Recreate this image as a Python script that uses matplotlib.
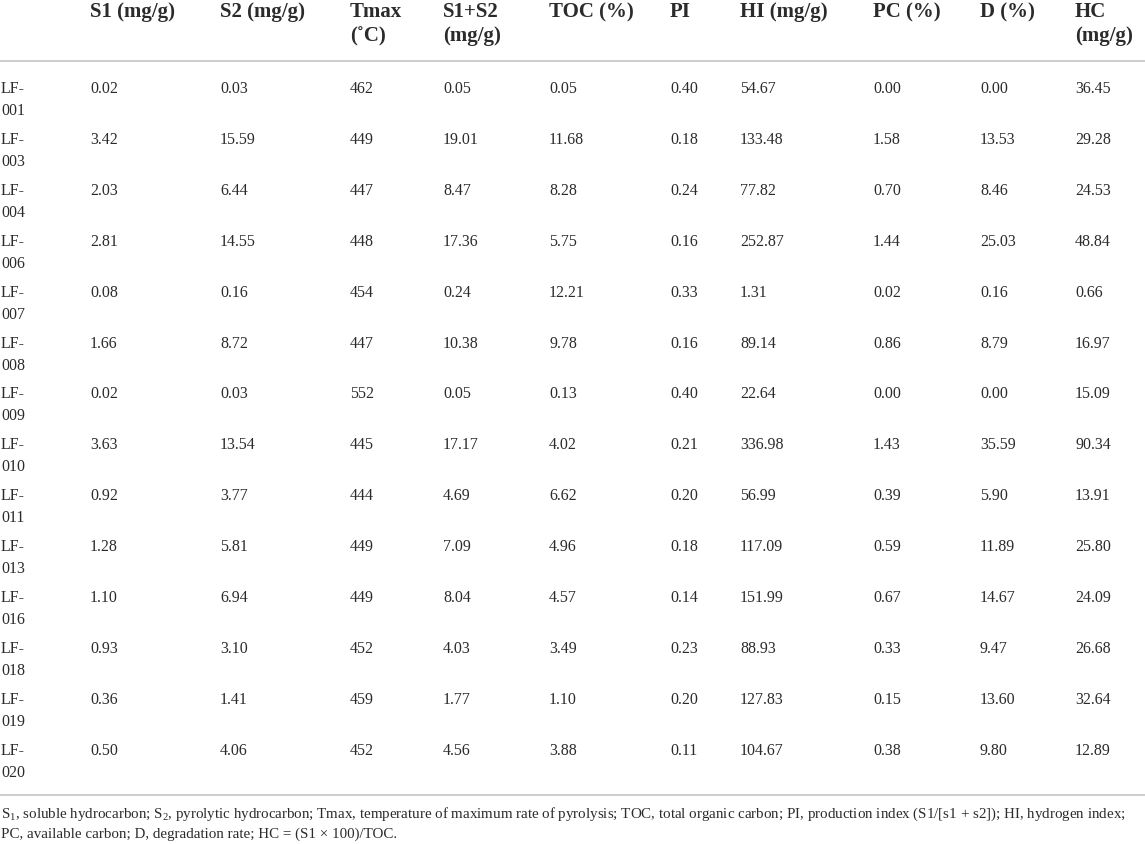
import matplotlib
matplotlib.use("Agg")
import matplotlib.pyplot as plt
from matplotlib.lines import Line2D

plt.rcParams['font.family'] = ['Liberation Serif', 'DejaVu Serif']
plt.rcParams['mathtext.fontset'] = 'custom'
plt.rcParams['mathtext.rm'] = 'Liberation Serif'

# table content
headers = [["", ""], ["S1 (mg/g)", ""], ["S2 (mg/g)", ""], ["Tmax", "(˚C)"],
           ["S1+S2", "(mg/g)"], ["TOC (%)", ""], ["PI", ""], ["HI (mg/g)", ""],
           ["PC (%)", ""], ["D (%)", ""], ["HC", "(mg/g)"]]
samples = ["001", "003", "004", "006", "007", "008", "009", "010",
           "011", "013", "016", "018", "019", "020"]
s1 = ["0.02", "3.42", "2.03", "2.81", "0.08", "1.66", "0.02", "3.63",
      "0.92", "1.28", "1.10", "0.93", "0.36", "0.50"]
s2 = ["0.03", "15.59", "6.44", "14.55", "0.16", "8.72", "0.03", "13.54",
      "3.77", "5.81", "6.94", "3.10", "1.41", "4.06"]
tmax = ["462", "449", "447", "448", "454", "447", "552", "445",
        "444", "449", "449", "452", "459", "452"]
s1s2 = ["0.05", "19.01", "8.47", "17.36", "0.24", "10.38", "0.05", "17.17",
        "4.69", "7.09", "8.04", "4.03", "1.77", "4.56"]
toc = ["0.05", "11.68", "8.28", "5.75", "12.21", "9.78", "0.13", "4.02",
       "6.62", "4.96", "4.57", "3.49", "1.10", "3.88"]
pi = ["0.40", "0.18", "0.24", "0.16", "0.33", "0.16", "0.40", "0.21",
      "0.20", "0.18", "0.14", "0.23", "0.20", "0.11"]
hi = ["54.67", "133.48", "77.82", "252.87", "1.31", "89.14", "22.64", "336.98",
      "56.99", "117.09", "151.99", "88.93", "127.83", "104.67"]
pc = ["0.00", "1.58", "0.70", "1.44", "0.02", "0.86", "0.00", "1.43",
      "0.39", "0.59", "0.67", "0.33", "0.15", "0.38"]
deg = ["0.00", "13.53", "8.46", "25.03", "0.16", "8.79", "0.00", "35.59",
       "5.90", "11.89", "14.67", "9.47", "13.60", "9.80"]
hc = ["36.45", "29.28", "24.53", "48.84", "0.66", "16.97", "15.09", "90.34",
      "13.91", "25.80", "24.09", "26.68", "32.64", "12.89"]

footnote = [
    "S$_\\mathrm{1}$, soluble hydrocarbon; S$_\\mathrm{2}$, pyrolytic hydrocarbon; Tmax, temperature of maximum rate of pyrolysis; "
    "TOC, total organic carbon; PI, production index (S1/[s1 + s2]); HI, hydrogen index;",
    "PC, available carbon; D, degradation rate; HC = (S1 × 100)/TOC.",
]

W, H = 1145, 844
fig = plt.figure(figsize=(W / 100, H / 100), dpi=100)
fig.patch.set_facecolor('white')

col_x = [1, 90, 220, 350, 443, 549, 670, 740, 873, 980, 1075]
text_color = '#2b2b2b'
rule_color = '#c9c9c9'
head_fs, body_fs = 15, 11.5


def fx(px):
    return px / W


def fy(py):
    return 1 - py / H


# header
for x, (l1, l2) in zip(col_x, headers):
    fig.text(fx(x), fy(17), l1, fontsize=head_fs, fontweight='bold',
             color=text_color, va='baseline')
    if l2:
        fig.text(fx(x), fy(41), l2, fontsize=head_fs, fontweight='bold',
                 color=text_color, va='baseline')

fig.add_artist(Line2D([0, 1], [fy(61), fy(61)], color=rule_color, lw=1.3))

# body rows
columns = [s1, s2, tmax, s1s2, toc, pi, hi, pc, deg, hc]
row_y0, row_h = 93, 50.9
for i, sid in enumerate(samples):
    y = row_y0 + i * row_h
    fig.text(fx(col_x[0]), fy(y), "LF-", fontsize=body_fs, color=text_color, va='baseline')
    fig.text(fx(col_x[0]), fy(y + 22), sid, fontsize=body_fs, color=text_color, va='baseline')
    for x, col in zip(col_x[1:], columns):
        fig.text(fx(x), fy(y), col[i], fontsize=body_fs, color=text_color, va='baseline')

fig.add_artist(Line2D([0, 1], [fy(795), fy(795)], color=rule_color, lw=1.3))

# footnote, sized so the first line spans the table width
fn1 = fig.text(fx(1), fy(818), footnote[0], fontsize=10, color=text_color, va='baseline')
renderer = fig.canvas.get_renderer()
w1 = fn1.get_window_extent(renderer).width
fn_fs = 10 * 1128 / w1
fn1.set_fontsize(fn_fs)
fig.text(fx(1), fy(838), footnote[1], fontsize=fn_fs, color=text_color, va='baseline')

fig.savefig('out.png', dpi=100, facecolor='white')
